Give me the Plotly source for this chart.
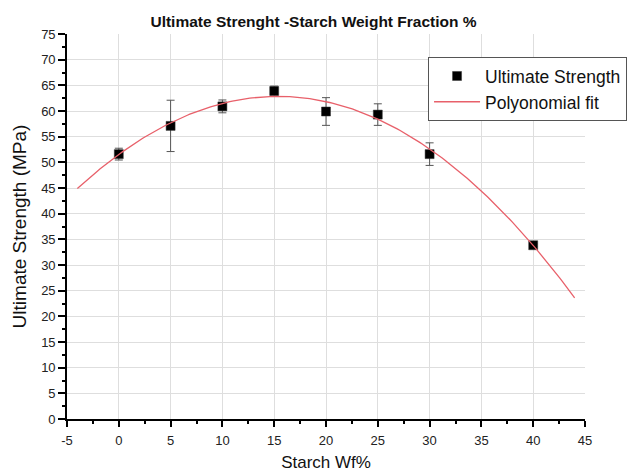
import numpy as np
import plotly.graph_objects as go

# Measured ultimate strength vs starch weight fraction
starch_wf = [0, 5, 10, 15, 20, 25, 30, 40]
strength_mpa = [51.6, 57.1, 60.9, 63.9, 59.9, 59.3, 51.6, 33.85]
strength_err = [1.15, 5.0, 1.25, 0.95, 2.7, 2.1, 2.2, 0.3]

# Second-order polynomial fitted to the measurements (weighted by the error bars)
fit_coef = np.polyfit(starch_wf, strength_mpa, 2,
                      w=1.0 / np.sqrt(np.array(strength_err)))
fit_x = np.linspace(-4, 44, 200)
fit_y = np.polyval(fit_coef, fit_x)

x_ticks = [-5, 0, 5, 10, 15, 20, 25, 30, 35, 40, 45]
x_tick_text = ["-5", "0", "5", "10", "15", "20", "25", "30", "35", "40", "45"]
y_ticks = list(range(0, 80, 5))

FONT = "Liberation Sans, Arial, sans-serif"

fig = go.Figure()
fig.add_trace(go.Scatter(
    x=starch_wf, y=strength_mpa, mode="markers", name="Ultimate Strength",
    marker=dict(symbol="square", size=9, color="black",
                line=dict(color="#333", width=0.5)),
    error_y=dict(type="data", array=strength_err, visible=True,
                 color="#555555", thickness=1, width=4),
))
fig.add_trace(go.Scatter(
    x=fit_x, y=fit_y, mode="lines", name="Polyonomial fit",
    line=dict(color="#e8606a", width=1.3),
))

axis_common = dict(
    showline=True, linecolor="black", linewidth=1.6,
    ticks="outside", tickcolor="black", tickwidth=1.5,
    showgrid=True, gridcolor="#dedede", gridwidth=1,
    zeroline=False, mirror=False, automargin=False,
    tickfont=dict(family=FONT, size=13, color="#222"),
)

fig.update_xaxes(
    range=[-5, 45], tickvals=x_ticks, ticktext=x_tick_text, ticklen=6,
    ticklabelstandoff=3,
    minor=dict(ticks="outside", ticklen=3, tickcolor="black", dtick=2.5,
               tick0=-5, showgrid=False),
    title=dict(text="Starch Wf%", font=dict(family=FONT, size=17, color="#111"),
               standoff=15),
    **axis_common,
)
fig.update_yaxes(
    range=[0, 75], tickvals=y_ticks, ticklen=7,
    minor=dict(ticks="outside", ticklen=3, tickcolor="black", dtick=2.5,
               tick0=0, showgrid=False),
    title=dict(text="Ultimate Strength (MPa)",
               font=dict(family=FONT, size=19, color="#111"), standoff=9),
    **axis_common,
)

fig.update_layout(
    width=634, height=472,
    margin=dict(l=67, r=49, t=34, b=53, pad=0, autoexpand=False),
    paper_bgcolor="white", plot_bgcolor="white",
    title=dict(text="<b>Ultimate Strenght -Starch Weight Fraction %</b>",
               font=dict(family=FONT, size=15.5, color="#111"),
               xref="container", x=0.4945, xanchor="center",
               yref="container", y=0.955, yanchor="middle"),
    legend=dict(x=0.697, y=0.94, xanchor="left", yanchor="top",
                bgcolor="white", bordercolor="#555", borderwidth=1,
                font=dict(family=FONT, size=17.5, color="#111"),
                itemwidth=46, tracegroupgap=0),
    showlegend=True,
)

fig.write_html("out.html")
